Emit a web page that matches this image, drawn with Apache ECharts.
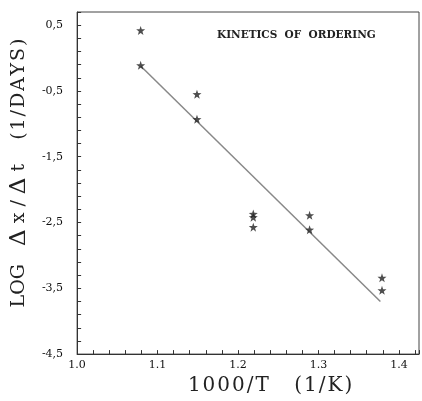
<!DOCTYPE html>
<html>
<head>
<meta charset="utf-8">
<title>Kinetics of ordering</title>
<script src="https://cdn.jsdelivr.net/npm/echarts@6/dist/echarts.min.js"></script>
<style>
  html, body { margin: 0; padding: 0; background: #fff; }
  #chart { width: 422px; height: 401px; }
</style>
</head>
<body>
<div id="chart"></div>
<script>
// measured points (1000/T, log dx/dt)
var invT   = [1.079, 1.079, 1.149, 1.149, 1.219, 1.219, 1.219, 1.289, 1.289, 1.379, 1.379];
var logRate = [0.42, -0.11, -0.55, -0.93, -2.37, -2.42, -2.57, -2.39, -2.61, -3.34, -3.53];
// fitted line end points
var fitX = [1.079, 1.377];
var fitY = [-0.12, -3.70];

var serif = '"DejaVu Serif", "Liberation Serif", serif';
var hs = '\u200A'; // hair space, used as letter spacing

var pts = invT.map(function (x, i) { return [x, logRate[i]]; });
var fit = fitX.map(function (x, i) { return [x, fitY[i]]; });

function spaced(s) { return s.split('').join(hs); }

var star = 'path://M0,-10 L2.35,-3.24 L9.51,-3.09 L3.8,1.24 L5.88,8.09 L0,4 L-5.88,8.09 L-3.8,1.24 L-9.51,-3.09 L-2.35,-3.24 Z';

var myChart = echarts.init(document.getElementById('chart'));

var option = {
  backgroundColor: '#fff',
  animation: false,
  title: {
    text: 'KINETICS  OF  ORDERING',
    left: 212,
    top: 25,
    textStyle: { fontFamily: serif, fontWeight: 'bold', fontSize: 10.5, color: '#222' }
  },
  grid: {
    left: 77, right: 3, top: 12, bottom: 44,
    show: true, borderColor: '#444', borderWidth: 1
  },
  xAxis: {
    type: 'value',
    min: 1.0, max: 1.425, interval: 0.02,
    name: spaced('1000/T') + '    ' + spaced('(1/K)'),
    nameLocation: 'middle',
    nameGap: 14,
    nameTextStyle: { fontFamily: serif, fontSize: 20, color: '#222', padding: [0, 0, 0, 44] },
    axisLine: { onZero: false, lineStyle: { color: '#333' } },
    axisTick: { inside: true, length: 4, lineStyle: { color: '#333' } },
    splitLine: { show: false },
    axisLabel: {
      margin: 6,
      fontFamily: serif, fontSize: 11, color: '#111',
      formatter: function (v) {
        var r = Math.round(v * 100) / 100;
        if (Math.abs(r * 10 - Math.round(r * 10)) < 1e-6 && r <= 1.4) return r.toFixed(1);
        return '';
      }
    }
  },
  yAxis: {
    type: 'value',
    min: -4.5, max: 0.7, interval: 0.2,
    name: '{a|LOG}   {d|\u0394} {a|x / }{d|\u0394} {a|t}    {a|' + spaced('(1/DAYS)') + '}',
    nameLocation: 'middle',
    nameRotate: 90,
    nameGap: 44,
    nameTextStyle: {
      fontFamily: serif, fontSize: 19, color: '#222', padding: [0, 0, 0, 20],
      rich: {
        a: { fontFamily: serif, fontSize: 19, color: '#222' },
        d: { fontFamily: serif, fontSize: 23, color: '#222' }
      }
    },
    axisLine: { onZero: false, lineStyle: { color: '#333' } },
    axisTick: { inside: true, length: 4, lineStyle: { color: '#333' } },
    splitLine: { show: false },
    axisLabel: {
      margin: 14,
      fontFamily: serif, fontSize: 11, color: '#111',
      formatter: function (v) {
        var r = Math.round(v * 10) / 10;
        var k = r + 0.5;
        if (Math.abs(k - Math.round(k)) < 1e-6 && r <= 0.5) return r.toFixed(1).replace('.', ',');
        return '';
      }
    }
  },
  series: [
    {
      name: 'fit',
      type: 'line',
      data: fit,
      symbol: 'none',
      lineStyle: { color: '#888', width: 1.5 },
      z: 2
    },
    {
      name: 'data',
      type: 'scatter',
      data: pts,
      symbol: star,
      symbolSize: 9,
      itemStyle: { color: '#222' },
      z: 3
    }
  ]
};

myChart.setOption(option);
</script>
</body>
</html>
